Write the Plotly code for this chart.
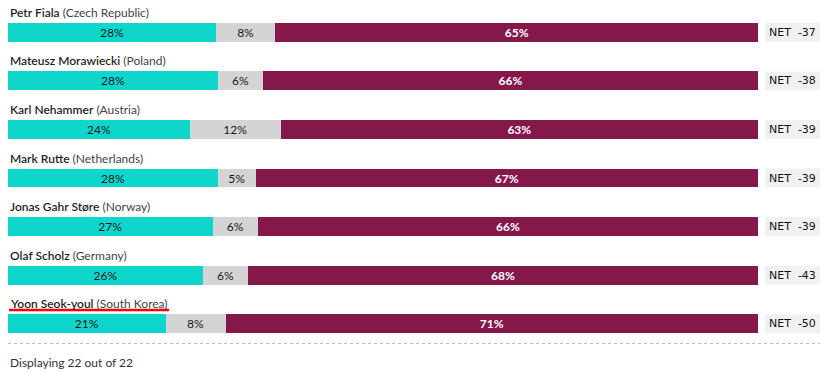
import plotly.graph_objects as go

names = ["Petr Fiala", "Mateusz Morawiecki", "Karl Nehammer", "Mark Rutte",
         "Jonas Gahr Støre", "Olaf Scholz", "Yoon Seok-youl"]
countries = ["Czech Republic", "Poland", "Austria", "Netherlands",
             "Norway", "Germany", "South Korea"]
approve = [28, 28, 24, 28, 27, 26, 21]
unsure = [8, 6, 12, 5, 6, 6, 8]
disapprove = [65, 66, 63, 67, 66, 68, 71]
net = [-37, -38, -39, -39, -39, -43, -50]
footer = "Displaying 22 out of 22"

W, H = 826, 372
ML, MR, MT, MB = 8, 68, 8, 24
PW, PH = W - ML - MR, H - MT - MB

def px_x(px):
    return (px - ML) / PW

def px_y(py):
    return (H - MB - py) / PH

rows = list(range(len(names)))
FONT = "Lato"

fig = go.Figure()
series = [
    (approve, "#0fd6cb", "#1a1a1a", 400),
    (unsure, "#d4d4d4", "#1a1a1a", 400),
    (disapprove, "#84184b", "#ffffff", 700),
]
for vals, col, tcol, tw in series:
    fig.add_trace(go.Bar(
        y=rows, x=vals, orientation="h",
        marker=dict(color=col, line=dict(width=0)),
        text=[f"{v}%" for v in vals], textposition="inside",
        insidetextanchor="middle", textangle=0, constraintext="none",
        textfont=dict(family=FONT, size=12, color=tcol, weight=tw),
        width=0.39, hoverinfo="skip", showlegend=False,
    ))

annotations = []
shapes = []
for i in rows:
    annotations.append(dict(
        x=px_x(8), xref="paper", y=i, yref="y", yshift=20,
        xanchor="left", yanchor="middle", showarrow=False,
        text=f"<span style='font-weight:600;color:#1f1f1f'>{names[i]}</span>"
             f"<span style='color:#444444'> ({countries[i]})</span>",
        font=dict(family=FONT, size=12, color="#222222"),
    ))
    shapes.append(dict(
        type="rect", xref="paper", yref="y",
        x0=px_x(765), x1=px_x(820), y0=i - 0.195, y1=i + 0.195,
        fillcolor="#f0f2f2", line=dict(width=0), layer="below",
    ))
    annotations.append(dict(
        x=px_x(792.5), xref="paper", y=i, yref="y",
        xanchor="center", yanchor="middle", showarrow=False,
        text=f"NET  {net[i]}",
        font=dict(family="DejaVu Sans", size=11, color="#111111"),
    ))

# red underline
shapes.append(dict(type="line", xref="paper", yref="paper",
                   x0=px_x(9), x1=px_x(169), y0=px_y(310), y1=px_y(310),
                   line=dict(color="#ff0000", width=2.5)))
# dashed separator
shapes.append(dict(type="line", xref="paper", yref="paper",
                   x0=px_x(8), x1=px_x(820), y0=px_y(343.5), y1=px_y(343.5),
                   line=dict(color="#bbbbbb", width=1, dash="3px,3px")))
annotations.append(dict(
    x=px_x(8), xref="paper", y=px_y(362), yref="paper",
    xanchor="left", yanchor="middle", showarrow=False,
    text=footer, font=dict(family=FONT, size=12, color="#333333"),
))

fig.update_layout(
    width=W, height=H, autosize=False,
    margin=dict(l=ML, r=MR, t=MT, b=MB, pad=0),
    barmode="stack", barnorm="percent",
    paper_bgcolor="white", plot_bgcolor="white",
    xaxis=dict(visible=False, range=[0, 100], fixedrange=True),
    yaxis=dict(visible=False, range=[6.5, -0.5], fixedrange=True),
    annotations=annotations, shapes=shapes,
)

fig.write_html("out.html", config={"displayModeBar": False},
               post_script="document.body.style.margin='0';document.body.style.overflow='hidden';")
